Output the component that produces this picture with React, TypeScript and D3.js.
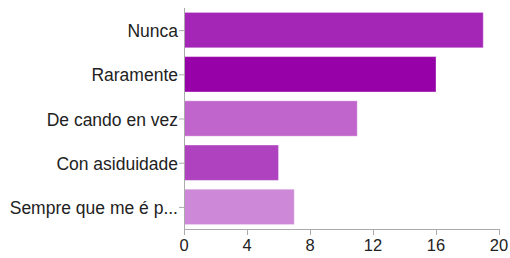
import React from "react";
import * as d3 from "d3";

const categories = ["Nunca", "Raramente", "De cando en vez", "Con asiduidade", "Sempre que me é p..."];
const values = [19, 16, 11, 6, 7];
const colors = ["#a426b7", "#9602a7", "#c065cc", "#ae42bf", "#cd88d7"];
const ticks = [0, 4, 8, 12, 16, 20];

const W = 510, H = 258;
const left = 184, right = 499, top = 8, bottom = 229;

export default function App() {
  const x = d3.scaleLinear().domain([0, 20]).range([left, right]);
  const y = d3.scaleBand<string>().domain(categories).range([top, bottom]).paddingInner(0.2).paddingOuter(0.1);
  const font = "'Liberation Sans', Arial, sans-serif";
  return (
    <svg width={W} height={H} style={{ position: "absolute", left: 0, top: 0 }} fontFamily={font}>
      <rect width={W} height={H} fill="#fff" />
      {categories.map((c, i) => (
        <rect key={c} x={x(0)} y={y(c)!} width={x(values[i]) - x(0)} height={y.bandwidth()}
          fill={colors[i]} stroke="#ffffff" strokeOpacity={0.35} strokeWidth={1} />
      ))}
      <line x1={left + 0.5} x2={left + 0.5} y1={top} y2={bottom} stroke="#aaa" />
      <line x1={left} x2={right + 1} y1={bottom + 0.5} y2={bottom + 0.5} stroke="#aaa" />
      {categories.map((c) => {
        const cy = y(c)! + y.bandwidth() / 2;
        return (
          <g key={c}>
            <line x1={left - 5} x2={left} y1={cy + 0.5} y2={cy + 0.5} stroke="#aaa" />
            <text x={left - 6} y={cy + 1} dy="0.35em" textAnchor="end" fontSize={17.5} fill="#222">{c}</text>
          </g>
        );
      })}
      {ticks.map((t) => (
        <g key={t}>
          <line x1={Math.round(x(t)) + 0.5} x2={Math.round(x(t)) + 0.5} y1={bottom} y2={bottom + 6} stroke="#aaa" />
          <text x={x(t)} y={251} textAnchor="middle" fontSize={16.5} fill="#222">{t}</text>
        </g>
      ))}
    </svg>
  );
}
